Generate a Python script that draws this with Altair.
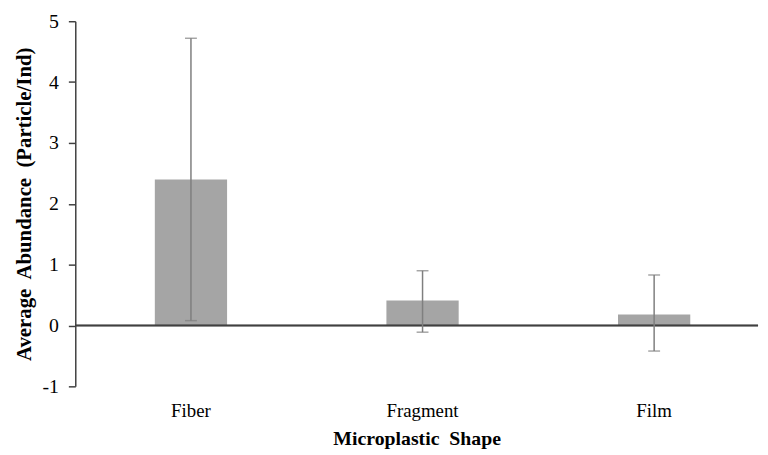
import altair as alt
import pandas as pd

shapes = ["Fiber", "Fragment", "Film"]
means = [2.40, 0.41, 0.18]
err_lo = [0.08, -0.11, -0.42]
err_hi = [4.72, 0.90, 0.83]
y_ticks = [-1, 0, 1, 2, 3, 4, 5]

df = pd.DataFrame({"shape": shapes, "mean": means, "lo": err_lo, "hi": err_hi})

FONT = "Liberation Serif"
NB = "\u00a0"

xscale = alt.Scale(domain=shapes, paddingInner=0.688, paddingOuter=0.318, align=0.54)
yscale = alt.Scale(domain=[-1, 5], nice=False, zero=False)

x = alt.X(
    "shape:N",
    scale=xscale,
    sort=shapes,
    axis=alt.Axis(
        title="Microplastic" + NB + " Shape",
        labelAngle=0,
        domain=False,
        ticks=False,
        labelPadding=15,
        labelFontSize=19,
        labelFont=FONT,
        labelColor="#000000",
        titleFont=FONT,
        titleFontSize=20,
        titleFontWeight="bold",
        titleColor="#000000",
        titlePadding=9,
    ),
)

y = alt.Y(
    "mean:Q",
    scale=yscale,
    axis=alt.Axis(
        title="Average" + NB + " Abundance" + NB + " (Particle/Ind)",
        values=y_ticks,
        labelExpr="toString(datum.value)",
        grid=False,
        domainColor="#404040",
        domainWidth=1.5,
        tickColor="#404040",
        tickWidth=1.5,
        tickSize=7,
        labelPadding=10,
        labelFontSize=20,
        labelFont=FONT,
        labelColor="#000000",
        titleFont=FONT,
        titleFontSize=21,
        titleFontWeight="bold",
        titleColor="#000000",
        titlePadding=8,
    ),
)

bars = alt.Chart(df).mark_bar(color="#a5a5a5").encode(x=x, y=y)

zero = alt.Chart(df).mark_rule(color="#404040", strokeWidth=1.5).encode(y=alt.datum(0))

err = alt.Chart(df).mark_rule(color="#7f7f7f", strokeWidth=1.5).encode(
    x=alt.X("shape:N", scale=xscale, sort=shapes),
    y=alt.Y("lo:Q", scale=yscale),
    y2="hi:Q",
)

cap_lo = alt.Chart(df).mark_tick(color="#7f7f7f", thickness=1.5, size=12).encode(
    x=alt.X("shape:N", scale=xscale, sort=shapes),
    y=alt.Y("lo:Q", scale=yscale),
)
cap_hi = alt.Chart(df).mark_tick(color="#7f7f7f", thickness=1.5, size=12).encode(
    x=alt.X("shape:N", scale=xscale, sort=shapes),
    y=alt.Y("hi:Q", scale=yscale),
)

chart = (
    alt.layer(bars, zero, err, cap_lo, cap_hi)
    .properties(
        width=690,
        height=369,
        autosize=alt.AutoSizeParams(type="none"),
        padding={"left": 68, "top": 11, "right": 2, "bottom": 66},
        background="#ffffff",
    )
    .configure_view(stroke=None)
)

chart.save("out.html", embed_options={"renderer": "svg", "actions": False})
